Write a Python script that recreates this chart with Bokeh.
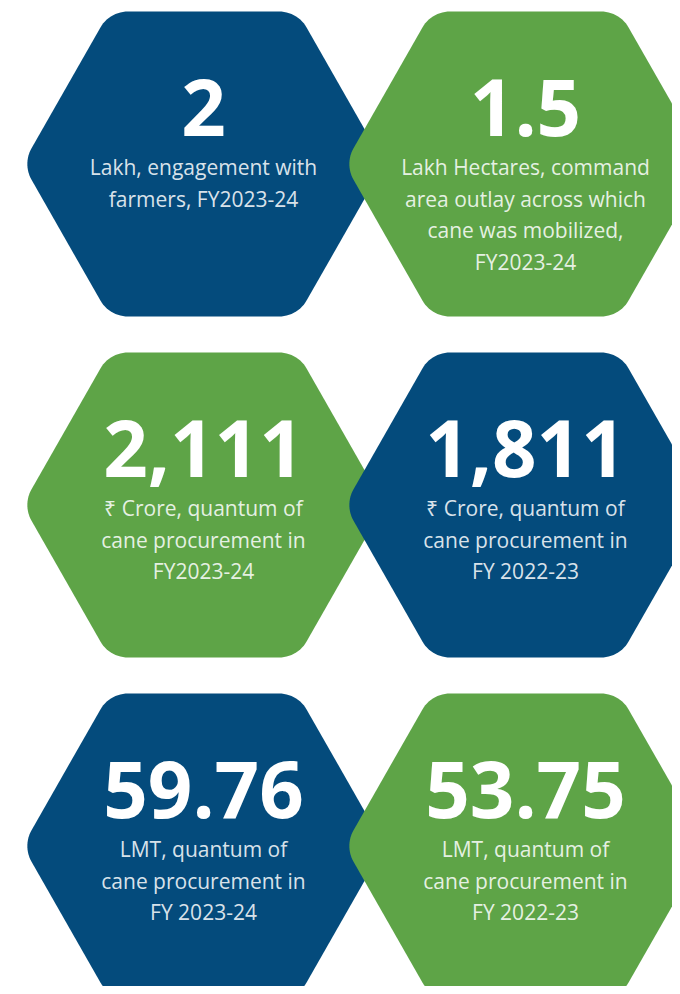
import numpy as np
from bokeh.plotting import figure
from bokeh.models import ColumnDataSource, Range1d
from bokeh.core.properties import value
from bokeh.embed import file_html
from bokeh.resources import INLINE

# ---- data ----
values = ["2", "1.5", "2,111", "1,811", "59.76", "53.75"]
descriptions = [
    "Lakh, engagement with\nfarmers, FY2023-24",
    "Lakh Hectares, command\narea outlay across which\ncane was mobilized,\nFY2023-24",
    "₹ Crore, quantum of\ncane procurement in\nFY2023-24",
    "₹ Crore, quantum of\ncane procurement in\nFY 2022-23",
    "LMT, quantum of\ncane procurement in\nFY 2023-24",
    "LMT, quantum of\ncane procurement in\nFY 2022-23",
]
tile_colour = ["blue", "green", "green", "blue", "blue", "green"]
grid_col = [0, 1, 0, 1, 0, 1]
grid_row = [0, 0, 1, 1, 2, 2]

# ---- layout / style ----
PALETTE = {"blue": "#044B7C", "green": "#5EA447"}
COL_X = [203, 525]
ROW_Y = [163.5, 504.5, 845.5]
R_OUT, H_TOP, H_HALF, CORNER = 181, 94, 152.5, 32


def rounded_hex(cx, cy, n=14):
    verts = [(cx - R_OUT, cy), (cx - H_TOP, cy - H_HALF), (cx + H_TOP, cy - H_HALF),
             (cx + R_OUT, cy), (cx + H_TOP, cy + H_HALF), (cx - H_TOP, cy + H_HALF)]
    xs, ys = [], []
    for i in range(6):
        V = np.array(verts[i], float)
        P = np.array(verts[i - 1], float)
        N = np.array(verts[(i + 1) % 6], float)
        u1 = (P - V) / np.linalg.norm(P - V)
        u2 = (N - V) / np.linalg.norm(N - V)
        theta = np.arccos(np.clip(u1 @ u2, -1, 1))
        t = CORNER / np.tan(theta / 2)
        A = V + u1 * t
        B = V + u2 * t
        bis = (u1 + u2) / np.linalg.norm(u1 + u2)
        C = V + bis * CORNER / np.sin(theta / 2)
        a0 = np.arctan2(A[1] - C[1], A[0] - C[0])
        a1 = np.arctan2(B[1] - C[1], B[0] - C[0])
        d = (a1 - a0 + np.pi) % (2 * np.pi) - np.pi
        angs = a0 + d * np.linspace(0, 1, n)
        xs += list(C[0] + CORNER * np.cos(angs))
        ys += list(C[1] + CORNER * np.sin(angs))
    return xs, ys


hx, hy, hc = [], [], []
num_x, num_y = [], []
line_x, line_y, line_t = [], [], []
for v, desc, colr, c, r in zip(values, descriptions, tile_colour, grid_col, grid_row):
    cx, cy = COL_X[c], ROW_Y[r]
    xs, ys = rounded_hex(cx, cy)
    hx.append(xs)
    hy.append(ys)
    hc.append(PALETTE[colr])
    num_x.append(cx)
    num_y.append(cy - 57)
    for k, line in enumerate(desc.split("\n")):
        line_x.append(cx)
        line_y.append(cy + 3 + 31.5 * k)
        line_t.append(line)

hex_src = ColumnDataSource(dict(xs=hx, ys=hy, color=hc))
num_src = ColumnDataSource(dict(x=num_x, y=num_y, text=values))
line_src = ColumnDataSource(dict(x=line_x, y=line_y, text=line_t))

p = figure(width=672, height=986, output_backend="svg", toolbar_location=None,
           x_range=Range1d(0, 672), y_range=Range1d(986, 0),
           x_axis_location=None, y_axis_location=None, min_border=0,
           tools="")
p.grid.visible = False
p.outline_line_color = None
p.background_fill_color = "white"
p.border_fill_color = "white"

p.patches("xs", "ys", source=hex_src, fill_color="color", line_color=None)

p.text("x", "y", text="text", source=num_src, text_color="white",
       text_font=value("Open Sans"), text_font_style="bold",
       text_font_size="78px", text_align="center", text_baseline="alphabetic")

p.text("x", "y", text="text", source=line_src, text_color="white", text_alpha=0.86,
       text_font=value("Open Sans"), text_font_size="21px",
       text_align="center", text_baseline="alphabetic")

open("out.html", "w").write(file_html(p, INLINE))
